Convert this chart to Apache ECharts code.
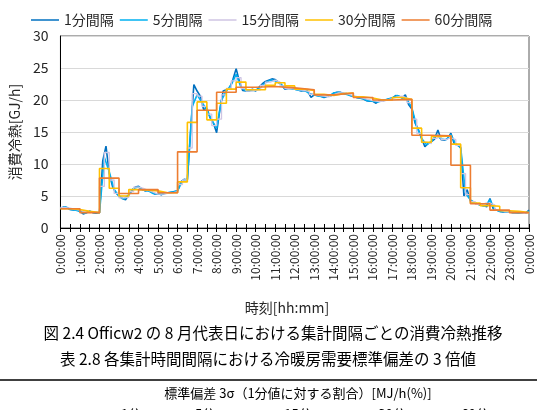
<!DOCTYPE html>
<html>
<head>
<meta charset="utf-8">
<script src="https://cdn.jsdelivr.net/npm/echarts@6/dist/echarts.min.js"></script>
<style>
html, body { margin: 0; padding: 0; background: #fff; }
#chartmain { width: 537px; height: 410px; }
</style>
</head>
<body>
<div id="chartmain"></div>
<script>
var seriesNames = ['1分間隔', '5分間隔', '15分間隔', '30分間隔', '60分間隔'];
var yTicks = [0, 5, 10, 15, 20, 25, 30];

// 1分間隔 (read every 10 min, 0:00 .. 24:00)
var min1 = [
	3.0, 3.3, 3.2, 2.9, 2.8, 2.9,
	2.6, 2.2, 2.4, 2.6, 2.4, 2.3,
	2.4, 10.5, 12.8, 8.5, 6.5, 5.5,
	5.0, 4.6, 4.4, 5.2, 5.9, 6.4,
	6.5, 6.1, 5.8, 5.9, 5.6, 5.3,
	5.4, 5.2, 5.5, 5.5, 5.6, 5.7,
	5.8, 7.2, 7.6, 7.5, 15.0, 22.4,
	21.4, 20.6, 18.5, 18.7, 17.2, 16.4,
	14.9, 18.5, 21.4, 21.6, 21.9, 23.2,
	24.9, 22.9, 21.5, 21.4, 21.4, 21.7,
	21.4, 22.0, 22.5, 22.9, 23.1, 23.3,
	23.2, 22.8, 22.3, 21.7, 21.8, 21.8,
	21.7, 21.6, 21.4, 21.5, 21.4, 20.4,
	20.8, 20.7, 20.6, 20.4, 20.6, 20.6,
	21.1, 21.2, 21.2, 21.0, 21.0, 20.7,
	20.6, 20.4, 20.3, 20.2, 19.9, 19.8,
	19.8, 19.5, 19.9, 19.9, 20.0, 20.2,
	20.3, 20.7, 20.6, 20.3, 20.8, 19.3,
	18.6, 16.4, 15.4, 14.0, 12.7, 13.2,
	13.5, 13.9, 15.3, 13.8, 13.7, 14.0,
	14.8, 13.2, 13.0, 12.5, 5.0, 6.0,
	4.2, 3.9, 3.8, 3.6, 3.5, 3.3,
	4.6, 3.0, 2.8, 2.6, 2.5, 2.6,
	2.5, 2.4, 2.4, 2.3, 2.3, 2.3,
	2.8
];

// 5分間隔 (read every 15 min, 0:00 .. 24:00)
var min5 = [
	3.1, 3.3, 2.9, 2.8, 2.6, 2.3, 2.6, 2.4,
	2.4, 11.0, 8.8, 6.0, 5.0, 4.5, 5.2, 6.2,
	6.4, 5.9, 5.8, 5.4, 5.3, 5.3, 5.5, 5.6,
	5.8, 7.4, 7.6, 19.0, 20.8, 19.6, 18.5, 16.8,
	15.6, 20.0, 21.4, 22.4, 24.0, 22.0, 21.4, 21.5,
	21.5, 22.0, 22.7, 23.1, 23.0, 22.6, 21.9, 21.8,
	21.7, 21.5, 21.5, 21.0, 20.8, 20.6, 20.5, 20.6,
	21.1, 21.2, 21.0, 20.8, 20.6, 20.3, 20.2, 19.9,
	19.8, 19.7, 19.9, 20.1, 20.3, 20.7, 20.4, 20.1,
	18.8, 15.8, 14.0, 13.0, 13.5, 14.6, 13.9, 13.8,
	14.6, 13.1, 12.6, 5.4, 4.4, 3.9, 3.6, 3.4,
	4.4, 2.9, 2.6, 2.6, 2.5, 2.4, 2.3, 2.3,
	2.6
];

// 15分間隔 (value held over each 15 min)
var min15 = [
	3.2, 3.1, 2.9, 2.8, 2.5, 2.4, 2.5, 2.4,
	6.5, 11.8, 7.5, 5.4, 4.7, 4.8, 5.7, 6.4,
	6.2, 5.9, 5.6, 5.3, 5.3, 5.4, 5.5, 5.7,
	6.8, 7.5, 12.5, 21.0, 20.6, 19.0, 17.8, 16.0,
	17.0, 20.8, 21.8, 23.0, 23.5, 21.8, 21.4, 21.5,
	21.6, 22.3, 22.8, 23.1, 22.8, 22.2, 21.8, 21.7,
	21.6, 21.5, 21.3, 20.9, 20.7, 20.6, 20.5, 20.8,
	21.1, 21.1, 20.9, 20.7, 20.5, 20.3, 20.1, 19.9,
	19.8, 19.8, 20.0, 20.2, 20.5, 20.6, 20.3, 19.6,
	17.0, 14.8, 13.4, 13.2, 14.0, 14.3, 13.8, 14.1,
	13.8, 12.9, 8.5, 5.2, 4.1, 3.7, 3.5, 3.9,
	3.6, 2.8, 2.6, 2.5, 2.4, 2.4, 2.3, 2.4
];

// 30分間隔 (value held over each 30 min)
var min30 = [
	3.0, 2.9, 2.6, 2.4, 9.3, 6.2, 5.0, 6.0,
	5.9, 5.8, 5.5, 5.5, 7.2, 16.5, 19.7, 16.9,
	19.5, 21.7, 22.8, 21.6, 21.6, 22.3, 22.7, 22.2,
	21.7, 21.5, 20.9, 20.7, 21.0, 21.1, 20.5, 20.3,
	20.0, 20.0, 20.4, 20.1, 15.6, 13.4, 14.3, 14.4,
	13.1, 6.3, 3.9, 3.5, 3.4, 2.7, 2.6, 2.4
];

// 60分間隔 (value held over each hour)
var min60 = [
	3.0, 2.4, 7.8, 5.4, 6.0, 5.5, 11.9, 18.4,
	21.2, 22.0, 22.1, 21.9, 21.6, 20.8, 21.1, 20.4,
	20.0, 20.1, 14.5, 14.4, 9.8, 3.8, 2.8, 2.4
];

var FONT = '"Noto Sans CJK JP", sans-serif';

function points(arr, step) {
	var out = [];
	for (var i = 0; i < arr.length; i++) {
		out.push([i * step, arr[i]]);
	}
	return out;
}
function steps(arr, step) {
	var out = points(arr, step);
	out.push([arr.length * step, arr[arr.length - 1]]);
	return out;
}

var colors = ['#0070C0', '#00B0F0', '#CFC5E3', '#FFC000', '#ED7D31'];

var option = {
	animation : false,
	color : colors,
	legend : {
		data : seriesNames,
		left : 26,
		top : 8,
		icon : 'rect',
		itemWidth : 28,
		itemHeight : 1.5,
		itemGap : 6,
		textStyle : {
			fontFamily : FONT,
			fontSize : 14,
			color : '#262626'
		}
	},
	grid : {
		left : 60,
		right : 8,
		top : 36,
		bottom : 182,
		show : true,
		borderColor : '#595959',
		borderWidth : 1
	},
	xAxis : [ {
		type : 'value',
		min : 0,
		max : 1440,
		interval : 30,
		axisLine : { lineStyle : { color : '#000', width : 1 } },
		axisTick : { show : true, length : 4, lineStyle : { color : '#000' } },
		splitLine : { show : false },
		axisLabel : {
			rotate : 90,
			margin : 6,
			fontFamily : FONT,
			fontSize : 12,
			color : '#262626',
			formatter : function(v) {
				if (v % 60 !== 0) return '';
				return ((v / 60) % 24) + ':00:00';
			}
		}
	}, {
		type : 'value',
		position : 'bottom',
		min : 0,
		max : 1440,
		interval : 30,
		axisLine : { show : false },
		axisTick : { show : true, inside : true, length : 4, lineStyle : { color : '#000' } },
		axisLabel : { show : false },
		splitLine : { show : false }
	} ],
	yAxis : {
		type : 'value',
		min : yTicks[0],
		max : yTicks[yTicks.length - 1],
		interval : 5,
		name : '消費冷熱[GJ/h]',
		nameLocation : 'middle',
		nameGap : 36,
		nameTextStyle : { fontFamily : FONT, fontSize : 14, color : '#262626' },
		axisLine : { show : true, lineStyle : { color : '#000' } },
		axisTick : { show : false },
		axisLabel : { fontFamily : FONT, fontSize : 14, color : '#262626', margin : 12 },
		splitLine : { lineStyle : { color : '#D9D9D9', width : 1 } }
	},
	series : [ {
		name : seriesNames[0],
		type : 'line',
		symbol : 'none',
		lineStyle : { width : 1.6 },
		data : points(min1, 10)
	}, {
		name : seriesNames[1],
		type : 'line',
		symbol : 'none',
		lineStyle : { width : 1.6 },
		data : points(min5, 15)
	}, {
		name : seriesNames[2],
		type : 'line',
		symbol : 'none',
		step : 'end',
		lineStyle : { width : 1.3 },
		data : steps(min15, 15)
	}, {
		name : seriesNames[3],
		type : 'line',
		symbol : 'none',
		step : 'end',
		lineStyle : { width : 1.6 },
		data : steps(min30, 30)
	}, {
		name : seriesNames[4],
		type : 'line',
		symbol : 'none',
		step : 'end',
		lineStyle : { width : 1.6 },
		data : steps(min60, 60)
	} ],
	graphic : [ {
		type : 'text', x : 287, y : 308,
		style : { text : '時刻[hh:mm]', font : '14px ' + FONT, fill : '#262626', textAlign : 'center', textVerticalAlign : 'middle' }
	}, {
		type : 'text', x : 273, y : 333,
		style : { text : '図 2.4 Officw2 の 8 月代表日における集計間隔ごとの消費冷熱推移', font : '15.5px ' + FONT, fill : '#000', textAlign : 'center', textVerticalAlign : 'middle' }
	}, {
		type : 'text', x : 268, y : 359,
		style : { text : '表 2.8 各集計時間間隔における冷暖房需要標準偏差の 3 倍値', font : '15.5px ' + FONT, fill : '#000', textAlign : 'center', textVerticalAlign : 'middle' }
	}, {
		type : 'line',
		shape : { x1 : 0, y1 : 380, x2 : 537, y2 : 380 },
		style : { stroke : '#000', lineWidth : 1.5 }
	}, {
		type : 'text', x : 298, y : 393,
		style : { text : '標準偏差 3σ（1分値に対する割合）[MJ/h(%)]', font : '13px ' + FONT, fill : '#000', textAlign : 'center', textVerticalAlign : 'middle' }
	}, {
		type : 'text', x : 131, y : 414,
		style : { text : '1分', font : '13px ' + FONT, fill : '#000', textAlign : 'center', textVerticalAlign : 'middle' }
	}, {
		type : 'text', x : 205, y : 414,
		style : { text : '5分', font : '13px ' + FONT, fill : '#000', textAlign : 'center', textVerticalAlign : 'middle' }
	}, {
		type : 'text', x : 298, y : 414,
		style : { text : '15分', font : '13px ' + FONT, fill : '#000', textAlign : 'center', textVerticalAlign : 'middle' }
	}, {
		type : 'text', x : 392, y : 414,
		style : { text : '30分', font : '13px ' + FONT, fill : '#000', textAlign : 'center', textVerticalAlign : 'middle' }
	}, {
		type : 'text', x : 475, y : 414,
		style : { text : '60分', font : '13px ' + FONT, fill : '#000', textAlign : 'center', textVerticalAlign : 'middle' }
	} ]
};

var myChart = echarts.init(document.getElementById('chartmain'));
myChart.setOption(option);
</script>
</body>
</html>
